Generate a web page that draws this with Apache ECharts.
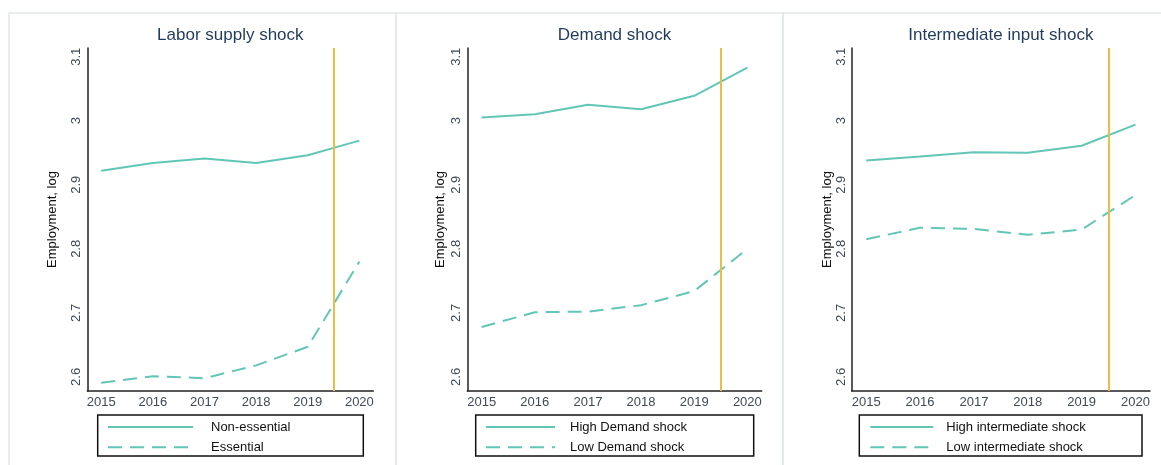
<!DOCTYPE html>
<html>
<head>
<meta charset="utf-8">
<script src="https://cdn.jsdelivr.net/npm/echarts@6/dist/echarts.min.js"></script>
<style>
  html, body { margin: 0; padding: 0; background: #ffffff; }
  #chart { width: 1161px; height: 465px; }
</style>
</head>
<body>
<div id="chart"></div>
<script>
// Employment (log) by group, 2015-2020, for three kinds of shock
const years = [2015, 2016, 2017, 2018, 2019, 2020];
const yTicks = [2.6, 2.7, 2.8, 2.9, 3, 3.1];
const shockYear = 2019.5;

const panelTitles = ['Labor supply shock', 'Demand shock', 'Intermediate input shock'];
const solidNames = ['Non-essential', 'High Demand shock', 'High intermediate shock'];
const dashedNames = ['Essential', 'Low Demand shock', 'Low intermediate shock'];

const nonEssential = [2.922, 2.934, 2.941, 2.934, 2.946, 2.969];
const essential    = [2.591, 2.601, 2.598, 2.618, 2.647, 2.780];
const highDemand   = [3.005, 3.010, 3.025, 3.018, 3.039, 3.083];
const lowDemand    = [2.678, 2.701, 2.702, 2.712, 2.734, 2.800];
const highInter    = [2.938, 2.944, 2.951, 2.950, 2.961, 2.994];
const lowInter     = [2.815, 2.833, 2.831, 2.822, 2.830, 2.884];

const solidSeries = [nonEssential, highDemand, highInter];
const dashedSeries = [essential, lowDemand, lowInter];

const FONT = 'Liberation Sans, Arial, sans-serif';
const TEAL = '#62c6b6';
const GOLD = '#e8bf45';
const AXIS = '#222222';

// layout of the three panels
const panels = [
  { frameX: 9,   frameW: 387, gridLeft: 87.3,  gridW: 286,   nameGap: 28, legendX: 97.7,  legendW: 265.6, iconX: 107,   textGap: 13 },
  { frameX: 396, frameW: 387, gridLeft: 467.3, gridW: 294.4, nameGap: 20, legendX: 475.7, legendW: 278,   iconX: 485,   textGap: 10 },
  { frameX: 783, frameW: 390, gridLeft: 851.7, gridW: 298.3, nameGap: 15, legendX: 859.3, legendW: 282.7, iconX: 869.3, textGap: 8 }
];
const gridTop = 48;
const gridHeight = 343;
const iconWidths = [85, 69, 63];

const pair = (xs, ys) => xs.map((x, i) => [x, ys[i]]);

const grids = [], xAxes = [], yAxes = [], series = [], titles = [], legends = [], graphics = [];

panels.forEach((p, i) => {
  graphics.push({
    type: 'rect', z: -10, silent: true,
    shape: { x: p.frameX, y: 13, width: p.frameW, height: 470 },
    style: { fill: 'none', stroke: '#e2e8ea', lineWidth: 1.5 }
  });
  graphics.push({
    type: 'rect', z: 10, silent: true,
    shape: { x: p.legendX, y: 415, width: p.legendW, height: 41 },
    style: { fill: 'none', stroke: '#111111', lineWidth: 1.5 }
  });

  grids.push({ left: p.gridLeft, top: gridTop, width: p.gridW, height: gridHeight, containLabel: false });

  titles.push({
    text: panelTitles[i],
    left: p.gridLeft + p.gridW / 2, top: 27, textAlign: 'center', padding: 0,
    textStyle: { fontFamily: FONT, fontSize: 17, fontWeight: 'normal', color: '#1f3a5c' }
  });

  xAxes.push({
    type: 'value', gridIndex: i, min: 2014.73, max: 2020.27,
    axisLine: { show: true, onZero: false, lineStyle: { color: AXIS, width: 1.5 } },
    axisTick: { show: false },
    splitLine: { show: false },
    axisLabel: {
      customValues: years, margin: 5,
      fontFamily: FONT, fontSize: 13, color: '#3e4a56',
      formatter: v => String(Math.round(v))
    }
  });

  yAxes.push({
    type: 'value', gridIndex: i, min: 2.578, max: 3.1136,
    name: 'Employment, log', nameLocation: 'middle', nameGap: p.nameGap, nameRotate: 90,
    nameTextStyle: { fontFamily: FONT, fontSize: 13, color: '#111111' },
    axisLine: { show: true, onZero: false, lineStyle: { color: AXIS, width: 1.5 } },
    axisTick: { show: false },
    splitLine: { show: false },
    axisLabel: {
      customValues: yTicks, rotate: 90, margin: 4,
      fontFamily: FONT, fontSize: 13, color: '#3e4a56',
      formatter: v => (Math.abs(v - 3) < 1e-9 ? '3' : v.toFixed(1))
    }
  });

  series.push({
    name: solidNames[i], type: 'line', xAxisIndex: i, yAxisIndex: i,
    data: pair(years, solidSeries[i]), symbol: 'none', silent: true,
    lineStyle: { color: TEAL, width: 2, type: 'solid' },
    itemStyle: { color: TEAL },
    markLine: {
      silent: true, symbol: 'none', label: { show: false },
      lineStyle: { color: GOLD, width: 2, type: 'solid' },
      data: [{ xAxis: shockYear }]
    }
  });
  series.push({
    name: dashedNames[i], type: 'line', xAxisIndex: i, yAxisIndex: i,
    data: pair(years, dashedSeries[i]), symbol: 'none', silent: true,
    lineStyle: { color: TEAL, width: 2, type: [14, 8] },
    itemStyle: { color: TEAL }
  });

  legends.push({
    data: [solidNames[i], dashedNames[i]],
    orient: 'vertical', left: p.iconX, top: 420.5,
    padding: 0, itemGap: 7.3, itemWidth: iconWidths[i], itemHeight: 12,
    selectedMode: false,
    itemStyle: { opacity: 0 },
    textStyle: { fontFamily: FONT, fontSize: 13, color: '#111111', padding: [0, 0, 0, p.textGap] }
  });
});

const chart = echarts.init(document.getElementById('chart'), null, { renderer: 'canvas' });
chart.setOption({
  animation: false,
  backgroundColor: '#ffffff',
  title: titles,
  grid: grids,
  xAxis: xAxes,
  yAxis: yAxes,
  legend: legends,
  series: series,
  graphic: graphics
});
</script>
</body>
</html>
